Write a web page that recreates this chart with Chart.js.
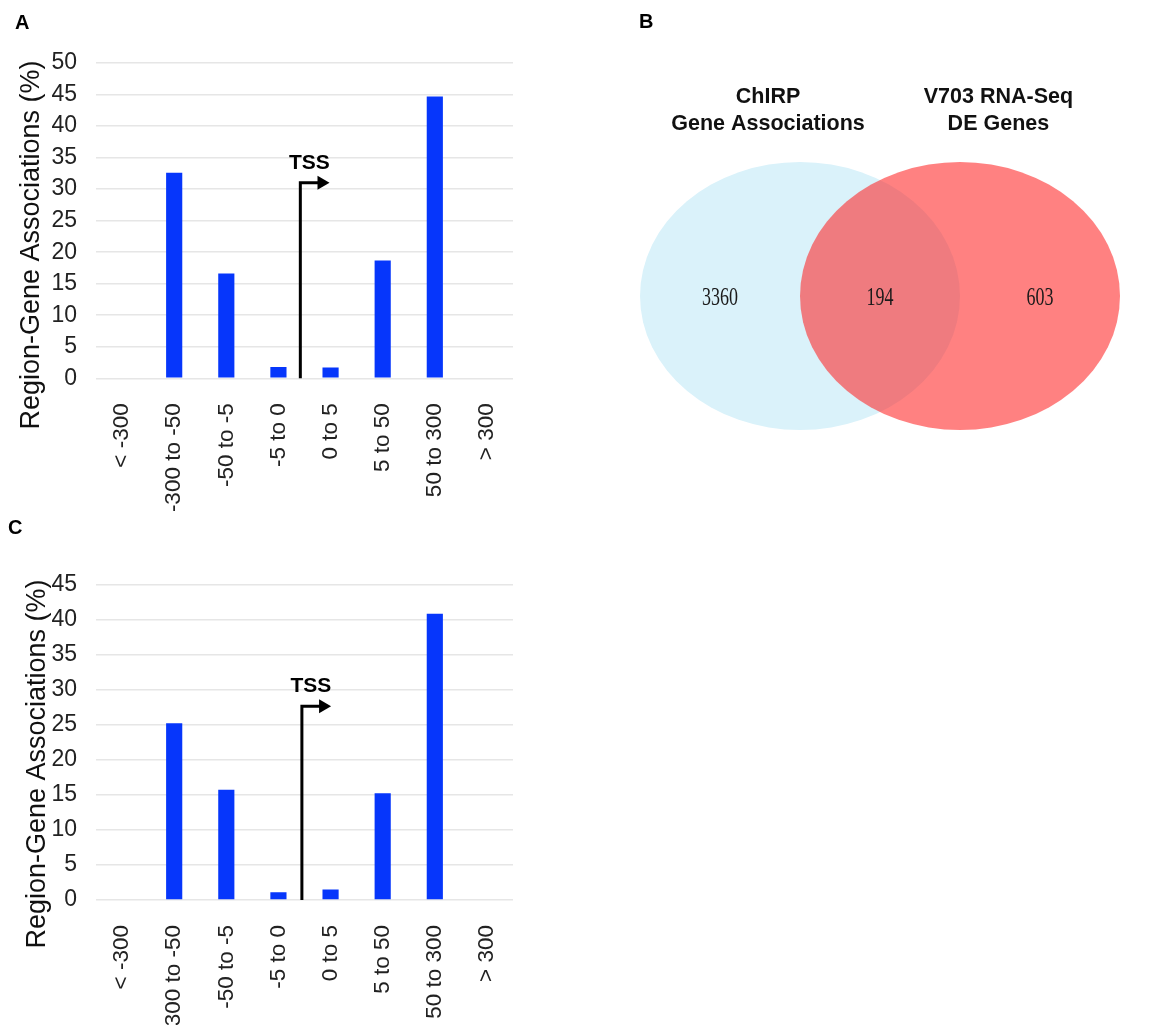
<!DOCTYPE html>
<html>
<head>
<meta charset="utf-8">
<title>Region-gene associations</title>
<script src="https://cdn.jsdelivr.net/npm/chart.js@4.4.1/dist/chart.umd.min.js"></script>
<style>
  html, body { margin: 0; padding: 0; background: #fff; }
  #page { position: relative; width: 1162px; height: 1025px; overflow: hidden; }
  canvas { position: absolute; }
  #chart-a { left: 0; top: 0; }
  #chart-b { left: 600px; top: 0; }
  #chart-c { left: 0; top: 520px; }
</style>
</head>
<body>
<div id="page">
  <canvas id="chart-a" width="580" height="520"></canvas>
  <canvas id="chart-b" width="562" height="450"></canvas>
  <canvas id="chart-c" width="580" height="505"></canvas>
</div>
<script>
// distance to TSS (kb)
const regions = ['< -300', '-300 to -50', '-50 to -5', '-5 to 0', '0 to 5', '5 to 50', '50 to 300', '> 300'];
const panelAValues = [0, 32.6, 16.6, 1.8, 1.7, 18.7, 44.7, 0];
const panelCValues = [0, 25.2, 15.7, 1.1, 1.5, 15.2, 40.8, 0];
const panelAMax = 50;
const panelCMax = 45;
const yTitle = 'Region-Gene Associations (%)';

// venn: only ChIRP, both, only V703
const vennSets = [['ChIRP', 'Gene Associations'], ['V703 RNA-Seq', 'DE Genes']];
const vennCounts = [3360, 194, 603];

const SANS = '"Liberation Sans", Arial, sans-serif';
const SERIF = '"Liberation Serif", "Times New Roman", serif';

const figureText = {
    id: 'figureText',
    afterDraw(chart, args, o) {
        const ctx = chart.ctx;
        const x = chart.scales.x;
        const y = chart.scales.y;
        ctx.save();
        ctx.fillStyle = '#000';
        ctx.strokeStyle = '#000';

        // panel letter
        ctx.font = 'bold 20px ' + SANS;
        ctx.textAlign = 'left';
        ctx.textBaseline = 'alphabetic';
        ctx.fillText(o.letter, o.letterX, o.letterY);

        // y axis title
        ctx.save();
        ctx.translate(o.titleX, o.titleY);
        ctx.rotate(-Math.PI / 2);
        ctx.textAlign = 'center';
        ctx.font = '27px ' + SANS;
        ctx.fillStyle = '#111';
        ctx.fillText(yTitle, 0, 0);
        ctx.restore();

        // TSS arrow
        const px = x.getPixelForValue(o.tssAt);
        const top = y.getPixelForValue(o.tssTop);
        const base = y.getPixelForValue(0);
        const end = x.getPixelForValue(o.tssAt + 0.56);
        ctx.lineWidth = 3;
        ctx.beginPath();
        ctx.moveTo(px, base);
        ctx.lineTo(px, top);
        ctx.lineTo(end - 9, top);
        ctx.stroke();
        ctx.beginPath();
        ctx.moveTo(end, top);
        ctx.lineTo(end - 12, top - 7);
        ctx.lineTo(end - 12, top + 7);
        ctx.closePath();
        ctx.fill();

        ctx.font = 'bold 21px ' + SANS;
        ctx.textAlign = 'center';
        ctx.textBaseline = 'middle';
        ctx.fillText('TSS', px + 9, top - 20);
        ctx.restore();
    }
};

function makeBarChart(canvasId, values, yMax, opts) {
    return new Chart(document.getElementById(canvasId), {
        type: 'bar',
        data: {
            labels: regions,
            datasets: [{
                data: values,
                backgroundColor: '#0636fb',
                barPercentage: 0.31,
                categoryPercentage: 1
            }]
        },
        options: {
            responsive: false,
            animation: false,
            events: [],
            layout: { padding: { left: 0, right: 67, top: opts.top, bottom: 0 } },
            plugins: {
                legend: { display: false },
                tooltip: { enabled: false },
                figureText: opts.text
            },
            scales: {
                x: {
                    grid: { display: false },
                    border: { display: false },
                    ticks: {
                        autoSkip: false,
                        maxRotation: 90,
                        minRotation: 90,
                        padding: 17,
                        color: '#222',
                        font: { family: SANS, size: 22.5 }
                    },
                    afterFit: s => { s.height = opts.xHeight; }
                },
                y: {
                    min: 0,
                    max: yMax,
                    ticks: {
                        stepSize: 5,
                        padding: 19,
                        color: '#222',
                        font: { family: SANS, size: 23 }
                    },
                    grid: { color: '#e6e6e6', lineWidth: 1.5, drawTicks: false },
                    border: { display: false },
                    afterFit: s => { s.width = 96; }
                }
            }
        },
        plugins: [figureText]
    });
}

const vennDraw = {
    id: 'vennDraw',
    beforeDatasetsDraw(chart, args, o) {
        const ctx = chart.ctx;
        const x = chart.scales.x;
        const y = chart.scales.y;
        const rx = x.getPixelForValue(o.radiusX) - x.getPixelForValue(0);
        const ry = y.getPixelForValue(0) - y.getPixelForValue(o.radiusY);
        ctx.save();

        chart.data.datasets.forEach((ds, i) => {
            const pt = chart.getDatasetMeta(i).data[0];
            ctx.fillStyle = ds.backgroundColor;
            ctx.beginPath();
            ctx.ellipse(pt.x, pt.y, rx, ry, 0, 0, Math.PI * 2);
            ctx.fill();

            // set names above the ellipses
            ctx.fillStyle = '#111';
            ctx.font = 'bold 21.5px ' + SANS;
            ctx.textAlign = 'center';
            ctx.textBaseline = 'middle';
            const tx = x.getPixelForValue(o.titleAt[i]);
            const ty = y.getPixelForValue(o.titleY);
            vennSets[i].forEach((line, k) => ctx.fillText(line, tx, ty + k * 27));
        });

        // counts, condensed serif
        ctx.fillStyle = '#1a1a1a';
        ctx.font = '25px ' + SERIF;
        vennCounts.forEach((n, i) => {
            ctx.save();
            ctx.translate(x.getPixelForValue(o.countAt[i]), y.getPixelForValue(0) + 2);
            ctx.scale(0.72, 1);
            ctx.fillText(String(n), 0, 0);
            ctx.restore();
        });

        ctx.font = 'bold 20px ' + SANS;
        ctx.textAlign = 'left';
        ctx.textBaseline = 'alphabetic';
        ctx.fillStyle = '#000';
        ctx.fillText('B', 39, 28);
        ctx.restore();
    }
};

function makeVenn() {
    return new Chart(document.getElementById('chart-b'), {
        type: 'scatter',
        data: {
            datasets: [
                { label: vennSets[0].join(' '), data: [{ x: 0, y: 0 }], backgroundColor: '#daf2fa', pointRadius: 0 },
                { label: vennSets[1].join(' '), data: [{ x: 1, y: 0 }], backgroundColor: 'rgba(255, 34, 34, 0.57)', pointRadius: 0 }
            ]
        },
        options: {
            responsive: false,
            animation: false,
            events: [],
            layout: { padding: 0 },
            plugins: {
                legend: { display: false },
                tooltip: { enabled: false },
                vennDraw: {
                    radiusX: 1,
                    radiusY: 1,
                    titleAt: [-0.2, 1.24],
                    titleY: 1.485,
                    countAt: [-0.5, 0.5, 1.5]
                }
            },
            scales: {
                x: { type: 'linear', display: false, min: -1.25, max: 2.2625 },
                y: { type: 'linear', display: false, min: -1.149, max: 2.209 }
            }
        },
        plugins: [vennDraw]
    });
}

makeBarChart('chart-a', panelAValues, panelAMax, {
    top: 63,
    xHeight: 141.7,
    text: { letter: 'A', letterX: 15, letterY: 29, titleX: 38.5, titleY: 245, tssAt: 3.42, tssTop: 31 }
});
makeVenn();
makeBarChart('chart-c', panelCValues, panelCMax, {
    top: 64.3,
    xHeight: 125,
    text: { letter: 'C', letterX: 8, letterY: 14, titleX: 45, titleY: 244, tssAt: 3.45, tssTop: 27.6 }
});
</script>
</body>
</html>
